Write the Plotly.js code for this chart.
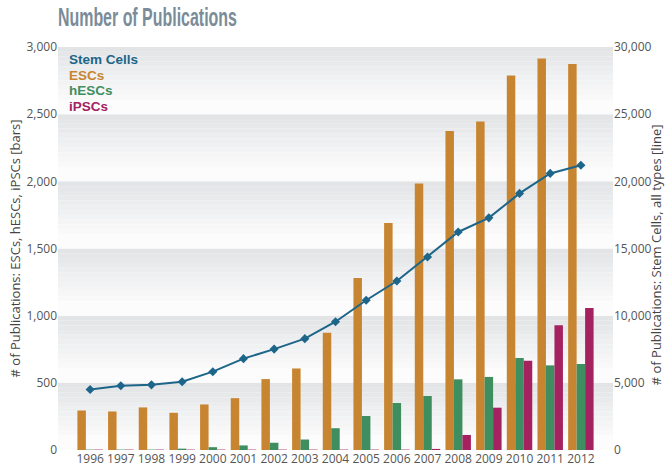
<!DOCTYPE html>
<html>
<head>
<meta charset="utf-8">
<script src="https://cdn.plot.ly/plotly-3.0.1.min.js"></script>
<style>
  html, body { margin: 0; padding: 0; background: #ffffff; }
  #chart { width: 666px; height: 468px; }
</style>
</head>
<body>
<div id="chart"></div>
<script>
// ---- data ----
const years = ['1996','1997','1998','1999','2000','2001','2002','2003','2004',
               '2005','2006','2007','2008','2009','2010','2011','2012'];
const escs = [294, 287, 317, 277, 339, 386, 528, 607, 873, 1280, 1690, 1983, 2375, 2445, 2788, 2914, 2874];
const hescs = [3, 3, 3, 10, 21, 34, 54, 78, 162, 253, 350, 402, 526, 544, 685, 630, 640];
const ipscs = [3, 3, 3, 3, 3, 3, 3, 3, 3, 3, 3, 8, 112, 315, 665, 928, 1058];
const stemCells = [4500, 4780, 4850, 5080, 5830, 6800, 7510, 8290, 9550, 11150, 12580, 14370, 16230, 17280, 19100, 20590, 21200];
const seriesNames = ['Stem Cells', 'ESCs', 'hESCs', 'iPSCs'];
const leftTicks = [0, 500, 1000, 1500, 2000, 2500, 3000];
const rightTicks = [0, 5000, 10000, 15000, 20000, 25000, 30000];
const leftTitle = '# of Publications: ESCs, hESCs, iPSCs [bars]';
const rightTitle = '# of Publications: Stem Cells, all types [line]';

// ---- styles ----
const colors = { stem: '#1d6589', esc: '#c88531', hesc: '#3f8e60', ipsc: '#a3225f' };
const tickFont = { family: 'Open Sans, sans-serif', size: 12, color: '#555555' };
const axisTitleFont = { family: 'Open Sans, sans-serif', size: 13, color: '#444444' };

const traces = [
  { type: 'bar', name: 'ESCs', x: years, y: escs, marker: { color: colors.esc }, yaxis: 'y' },
  { type: 'bar', name: 'hESCs', x: years, y: hescs, marker: { color: colors.hesc }, yaxis: 'y' },
  { type: 'bar', name: 'iPSCs', x: years, y: ipscs, marker: { color: colors.ipsc }, yaxis: 'y' },
  { type: 'scatter', mode: 'lines+markers', name: 'Stem Cells', x: years, y: stemCells, yaxis: 'y2',
    line: { color: colors.stem, width: 2 },
    marker: { symbol: 'diamond', size: 7, color: colors.stem } }
];

// gradient bands between left-axis ticks (top of each band gray, fading to white)
function mix(a, b, t) {
  const pa = [parseInt(a.slice(1,3),16), parseInt(a.slice(3,5),16), parseInt(a.slice(5,7),16)];
  const pb = [parseInt(b.slice(1,3),16), parseInt(b.slice(3,5),16), parseInt(b.slice(5,7),16)];
  return 'rgb(' + pa.map((v, i) => Math.round(v + (pb[i] - v) * t)).join(',') + ')';
}
const shapes = [];
const steps = 14;
for (let i = 0; i < leftTicks.length - 1; i++) {
  const lo = leftTicks[i], hi = leftTicks[i + 1];
  for (let s = 0; s < steps; s++) {
    const y1 = hi - (hi - lo) * s / steps;
    const y0 = hi - (hi - lo) * (s + 1) / steps;
    shapes.push({ type: 'rect', xref: 'paper', yref: 'y', x0: 0, x1: 1, y0: y0, y1: y1,
      fillcolor: mix('#e2e4e6', '#fcfcfc', Math.min(1, s / (steps * 0.8))),
      line: { width: 0 }, layer: 'below' });
  }
}

// legend as coloured text
const legendColors = [colors.stem, colors.esc, colors.hesc, colors.ipsc];
const legendY = [0.968, 0.929, 0.891, 0.852];
const annotations = seriesNames.map((n, i) => ({
  text: n, xref: 'paper', yref: 'paper', x: 0.016, y: legendY[i],
  xanchor: 'left', yanchor: 'middle', showarrow: false,
  font: { family: 'Liberation Sans Narrow, sans-serif', size: 13.5, color: legendColors[i], weight: 'bold' }
}));
// right axis title, kept fully inside the figure
annotations.push({
  text: rightTitle, xref: 'paper', yref: 'paper', x: 1.077, y: 0.485,
  xanchor: 'center', yanchor: 'middle', textangle: -90, showarrow: false, font: axisTitleFont
});

const layout = {
  width: 666, height: 468,
  margin: { l: 58, r: 53, t: 47, b: 18, pad: 0 },
  paper_bgcolor: '#ffffff', plot_bgcolor: '#ffffff',
  showlegend: false,
  barmode: 'group', bargap: 0.17, bargroupgap: 0,
  title: { text: 'Number of Publications', xref: 'container', yref: 'container',
    x: 0.087, xanchor: 'left', y: 0.963, yanchor: 'middle',
    font: { family: 'Liberation Sans Narrow, sans-serif', size: 25, color: '#7b8c99', weight: 'bold' } },
  xaxis: { type: 'category', showgrid: false, zeroline: false, showline: false, ticks: '',
    tickfont: tickFont, automargin: false, fixedrange: true },
  yaxis: { range: [0, 3000], tickvals: leftTicks, tickformat: ',d', showgrid: false, zeroline: false,
    showline: false, ticks: '', tickfont: tickFont, automargin: false,
    title: { text: leftTitle, standoff: 2, font: axisTitleFont } },
  yaxis2: { range: [0, 30000], tickvals: rightTicks, tickformat: ',d', overlaying: 'y', side: 'right',
    showgrid: false, zeroline: false, showline: false, ticks: '', tickfont: tickFont, automargin: false },
  shapes: shapes,
  annotations: annotations
};

Plotly.newPlot('chart', traces, layout, { displayModeBar: false, staticPlot: true }).then(() => {
  const t = document.querySelector('.gtitle');
  if (t) { t.setAttribute('textLength', '179'); t.setAttribute('lengthAdjust', 'spacingAndGlyphs'); }
});
</script>
</body>
</html>
